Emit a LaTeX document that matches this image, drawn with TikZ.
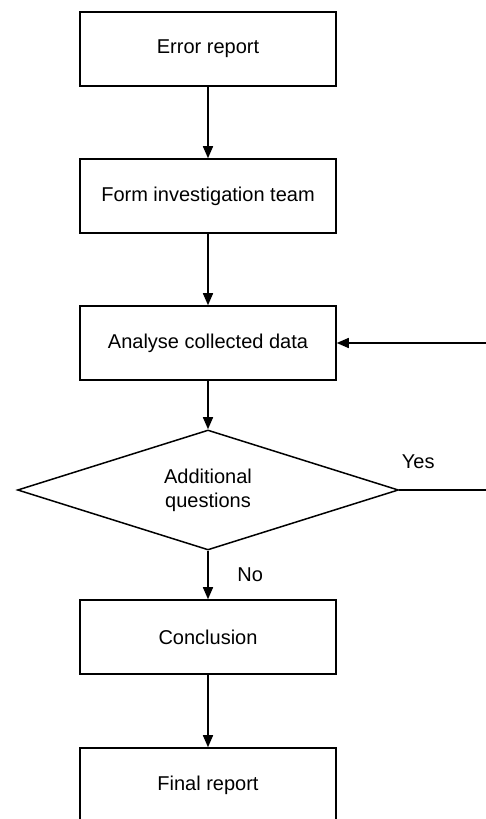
\documentclass[tikz,border=0pt]{standalone}
\usepackage{fontspec}
\setmainfont{Liberation Sans}
\usetikzlibrary{arrows.meta,shapes.geometric}

\begin{document}
\begin{tikzpicture}[x=0.5pt,y=0.5pt,
  stepbox/.style={rectangle, draw, line width=0.75pt, minimum width=128pt, minimum height=37pt, inner sep=0pt},
  ask/.style={diamond, draw, line width=0.75pt, aspect=3.175, minimum width=190.5pt, minimum height=60pt, inner sep=0pt, align=center},
  flow/.style={line width=0.75pt, -{Triangle[length=6pt,width=5pt]}}]
\useasboundingbox (0,0) rectangle (486,819);
\node[stepbox] (err) at (208,770){Error report};
\node[stepbox] (form) at (208,623){Form investigation team};
\node[stepbox] (anal) at (208,476){Analyse collected data};
\node[ask] (quest) at (208,329){Additional\\questions};
\node[stepbox] (concl) at (208,182){Conclusion};
\node[stepbox] (final) at (208,34){Final report};
\coordinate (back) at (494,329);
\draw[flow] (err) -- (form);
\draw[flow] (form) -- (anal);
\draw[flow] (anal) -- (quest);
\draw[flow] (quest) -- node[right=11pt]{No} (concl);
\draw[flow] (concl) -- (final);
\draw[line width=0.75pt] (quest.east) -- node[above=7pt, pos=0.2]{Yes} (back);
\draw[flow] (back) -- (back |- anal.east) -- (anal.east);
\end{tikzpicture}
\end{document}
